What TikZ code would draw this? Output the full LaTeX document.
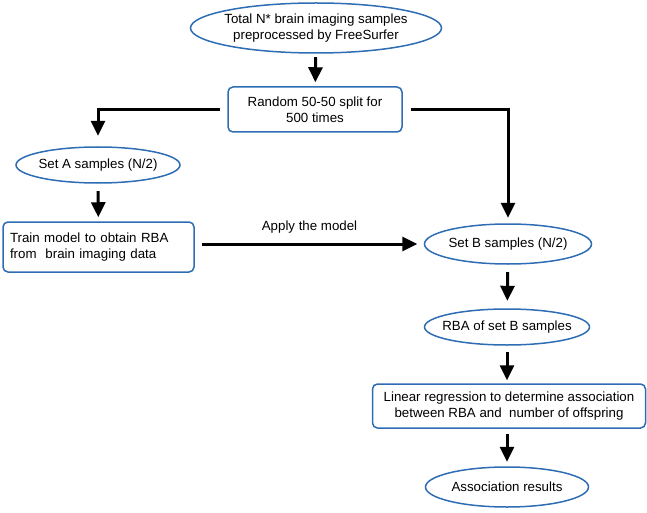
\documentclass[tikz,border=0pt]{standalone}
\usepackage{fontspec}
\setmainfont{Liberation Sans}
\usetikzlibrary{arrows.meta}
\definecolor{bblue}{HTML}{2E6DB4}
\begin{document}
\begin{tikzpicture}[x=1pt,y=-1pt,
  font=\fontsize{13.3}{16}\selectfont,
  oval/.style={rectangle,inner sep=0pt,align=center},
  rbox/.style={draw=bblue,line width=1.5pt,rounded corners=5pt,inner sep=0pt},
  ovalline/.style={draw=bblue,line width=1.5pt},
  arr/.style={line width=3pt,-{Triangle[width=14pt,length=15pt]}}]
\useasboundingbox (0,0) rectangle (647,513);
\node[oval,minimum width=251pt,minimum height=50pt] (tot) at (316,28) {Total N* brain imaging samples\\preprocessed by FreeSurfer};
\node[rbox,minimum width=174pt,minimum height=45pt,align=center] (rand) at (315,109.5) {Random 50-50 split for\\500 times};
\node[oval,minimum width=164pt,minimum height=36pt] (seta) at (98,165) {Set A samples (N/2)};
\node[rbox,minimum width=191pt,minimum height=50pt,align=left,text width=177pt] (train) at (98.5,247) {Train model to obtain RBA\\from\ \ brain imaging data};
\node[oval,minimum width=167pt,minimum height=40pt] (setb) at (508,244) {Set B samples (N/2)};
\node[oval,minimum width=165pt,minimum height=36pt] (rba) at (507,327) {RBA of set B samples};
\node[rbox,minimum width=273pt,minimum height=44pt,align=center] (lin) at (509,406) {Linear regression to determine association\\between RBA and\ \ number of offspring};
\node[oval,minimum width=163pt,minimum height=40pt] (res) at (507,487) {Association results};
\foreach \n/\rx/\ry in {tot/125.5/25, seta/82/18, setb/83.5/20, rba/82.5/18, res/81.5/20}
  \draw[ovalline] (\n.center) ellipse [x radius=\rx pt, y radius=\ry pt];
\draw[arr,shorten <=4pt,shorten >=4pt] (tot) -- (rand);
\draw[arr,shorten <=7pt,shorten >=11pt] (rand.west) -| (seta.north);
\draw[arr,shorten <=8pt,shorten >=6pt] (rand.east) -| (setb.north);
\draw[arr,shorten <=8pt,shorten >=4pt] (seta) -- (train);
\draw[arr,shorten <=7pt,shorten >=7pt] (train.east|-setb.west) -- node[above=6pt]{Apply the model} (setb.west);
\draw[arr,shorten <=8pt,shorten >=8pt] (setb) -- (rba);
\draw[arr,shorten <=7pt,shorten >=3pt] (rba) -- (rba|-lin.north);
\draw[arr,shorten <=5pt,shorten >=5pt] (rba|-lin.south) -- (res);
\end{tikzpicture}
\end{document}
